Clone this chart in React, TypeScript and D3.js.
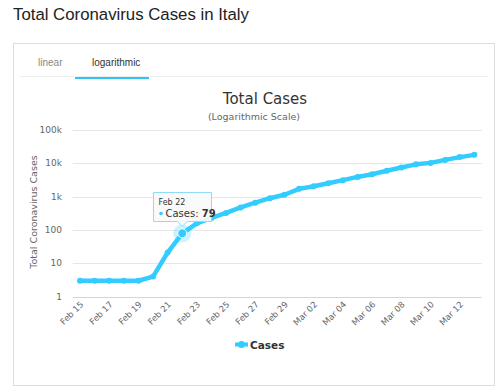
import React from 'react';
import * as d3 from 'd3';

const dates = [
  'Feb 15', 'Feb 16', 'Feb 17', 'Feb 18', 'Feb 19', 'Feb 20', 'Feb 21',
  'Feb 22', 'Feb 23', 'Feb 24', 'Feb 25', 'Feb 26', 'Feb 27', 'Feb 28',
  'Feb 29', 'Mar 01', 'Mar 02', 'Mar 03', 'Mar 04', 'Mar 05', 'Mar 06',
  'Mar 07', 'Mar 08', 'Mar 09', 'Mar 10', 'Mar 11', 'Mar 12', 'Mar 13',
];
const cases = [
  3, 3, 3, 3, 3, 4, 21, 79, 157, 229, 323, 470, 655, 889,
  1128, 1694, 2036, 2502, 3089, 3858, 4636, 5883, 7375, 9172, 10149, 12462, 15113, 17660,
];
const yTicks = [1, 10, 100, 1000, 10000, 100000];
const yTickLabels = ['1', '10', '100', '1k', '10k', '100k'];
const xTickLabels = dates.filter((d, i) => i % 2 === 0);
const hoverIndex = 7;

const COLOR = '#33ccff';
const FONT = '"DejaVu Sans", "Lucida Grande", sans-serif';
const PAGE_FONT = '"Liberation Sans", Arial, sans-serif';

export default function App() {
  const xScale = d3.scalePoint<string>()
    .domain(dates)
    .range([72.7, 481.7])
    .padding(0.5);
  const yScale = d3.scaleLog()
    .domain([1, 100000])
    .range([296.7, 129.7]);

  const line = d3.line<number>()
    .x((d, i) => xScale(dates[i]) as number)
    .y((d) => yScale(d));

  const hx = xScale(dates[hoverIndex]) as number;
  const hy = yScale(cases[hoverIndex]);

  return (
    <svg width={503} height={392} style={{ position: 'absolute', left: 0, top: 0, background: '#fff' }}>
      <text x={13} y={20} fontFamily={PAGE_FONT} fontSize={16.8} fill="#222">
        Total Coronavirus Cases in Italy
      </text>

      {/* panel */}
      <rect x={13.5} y={43.5} width={481} height={342} fill="#fff" stroke="#ddd" />
      <line x1={20} x2={488} y1={76.5} y2={76.5} stroke="#eee" />
      <text x={38} y={66} fontFamily={PAGE_FONT} fontSize={10} fill="#888">linear</text>
      <text x={92} y={66} fontFamily={PAGE_FONT} fontSize={10} fill="#333">logarithmic</text>
      <rect x={75} y={77} width={74} height={2} fill="#2ec4f3" />

      <text x={265} y={103.5} textAnchor="middle" fontFamily={FONT} fontSize={15} fill="#333">Total Cases</text>
      <text x={254} y={120} textAnchor="middle" fontFamily={FONT} fontSize={9.5} fill="#666">(Logarithmic Scale)</text>

      {/* grid + y labels */}
      {yTicks.map((t, i) => (
        <g key={t}>
          <line
            x1={72.7} x2={481.7}
            y1={Math.round(yScale(t)) + 0.5} y2={Math.round(yScale(t)) + 0.5}
            stroke={i === 0 ? '#ccd6eb' : '#e6e6e6'}
          />
          <text x={62} y={yScale(t)} dy="0.35em" textAnchor="end" fontFamily={FONT} fontSize={9} fill="#666">
            {yTickLabels[i]}
          </text>
        </g>
      ))}
      <text
        transform="translate(37,212) rotate(-90)"
        textAnchor="middle" fontFamily={FONT} fontSize={9.5} fill="#666"
      >
        Total Coronavirus Cases
      </text>

      {/* x labels */}
      {xTickLabels.map((d) => (
        <text
          key={d}
          transform={`translate(${(xScale(d) as number) + 4},${305}) rotate(-45)`}
          textAnchor="end" fontFamily={FONT} fontSize={8.5} fill="#666"
        >
          {d}
        </text>
      ))}

      {/* series */}
      <path d={line(cases) || ''} fill="none" stroke={COLOR} strokeWidth={4.5} strokeLinejoin="round" strokeLinecap="round" />
      {cases.map((v, i) => (
        <circle key={i} cx={xScale(dates[i]) as number} cy={yScale(v)} r={3} fill={COLOR} />
      ))}
      <circle cx={hx} cy={hy} r={9} fill={COLOR} opacity={0.25} />
      <circle cx={hx} cy={hy} r={4.5} fill={COLOR} stroke="#fff" strokeWidth={1} />

      {/* tooltip */}
      <path
        d={`M153.5,192.5 H211.5 V221.5 H${hx + 5} L${hx},${hy - 7} L${hx - 5},221.5 H153.5 Z`}
        fill="rgba(250,250,250,0.9)" stroke="#8fdcf7" strokeWidth={1}
      />
      <text x={158.5} y={205} fontFamily={FONT} fontSize={8} fill="#333">{dates[hoverIndex]}</text>
      <circle cx={161} cy={213.5} r={1.8} fill={COLOR} />
      <text x={165.5} y={217} fontFamily={FONT} fontSize={10} fill="#333">
        <tspan>Cases: </tspan>
        <tspan fontWeight="bold">{cases[hoverIndex]}</tspan>
      </text>

      {/* legend */}
      <line x1={235} x2={248} y1={344.5} y2={344.5} stroke={COLOR} strokeWidth={4} />
      <circle cx={241.5} cy={344.5} r={3.5} fill={COLOR} />
      <text x={250} y={348.5} fontFamily={FONT} fontSize={10.5} fontWeight="bold" fill="#333">Cases</text>
    </svg>
  );
}
